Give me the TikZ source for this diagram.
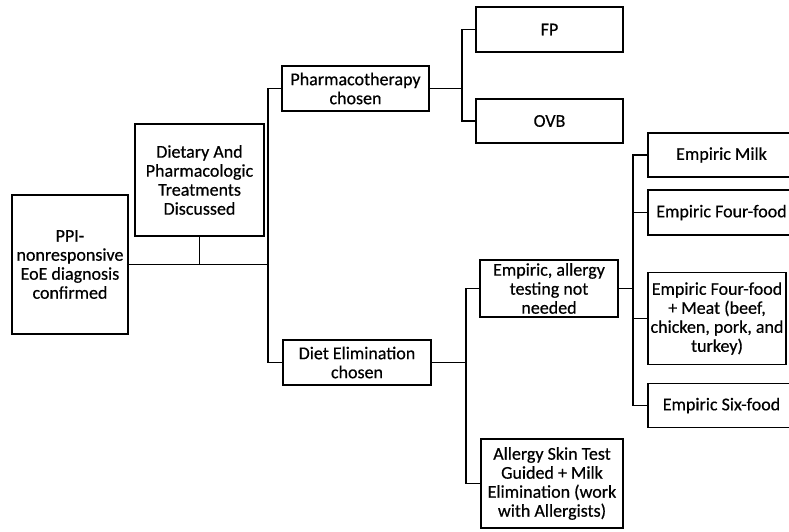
\documentclass[tikz,border=0pt]{standalone}
\usepackage{fontspec}
\setmainfont{Carlito}
\newfontfamily\boxfont{Carlito}[FakeBold=0.5]
\begin{document}
\begin{tikzpicture}[x=1pt,y=-1pt,
  box/.style={draw=black, line width=1.8pt, inner sep=0pt, align=center,
    font=\boxfont\fontsize{18}{19}\selectfont, text=black},
  conn/.style={draw=black, line width=1.8pt, line join=miter}]
\useasboundingbox (0,0) rectangle (789,531);
% boxes
\node[box, minimum width=116pt, minimum height=139pt] (ppi) at (70,264.5) {PPI-\\nonresponsive\\EoE diagnosis\\confirmed};
\node[box, minimum width=129pt, minimum height=112pt] (diet) at (199.5,180) {Dietary And\\Pharmacologic\\Treatments\\Discussed};
\node[box, minimum width=147pt, minimum height=45pt] (pharm) at (355.5,88.5) {Pharmacotherapy\\chosen};
\node[box, minimum width=147pt, minimum height=45pt] (fp) at (549.5,29.5) {FP};
\node[box, minimum width=147pt, minimum height=44pt] (ovb) at (549.5,121) {OVB};
\node[box, minimum width=148pt, minimum height=45pt] (de) at (357,362.5) {Diet Elimination\\chosen};
\node[box, minimum width=138pt, minimum height=57pt] (ea) at (549,288.5) {Empiric, allergy\\testing not\\needed};
\node[box, minimum width=142pt, minimum height=89pt] (as) at (552,483.5) {Allergy Skin Test\\Guided + Milk\\Elimination (work\\with Allergists)};
\node[box, minimum width=147pt, minimum height=44pt] (m1) at (721.5,155) {Empiric Milk};
\node[box, minimum width=147pt, minimum height=45pt] (m2) at (721.5,212.5) {Empiric Four-food};
\node[box, minimum width=138pt, minimum height=92pt] (m3) at (717,318.5) {Empiric Four-food\\+ Meat (beef,\\chicken, pork, and\\turkey)};
\node[box, minimum width=147pt, minimum height=44pt] (m4) at (721.5,405.5) {Empiric Six-food};
% junction coordinates
\coordinate (j1) at (268,264.5);
\coordinate (b2) at (462,88.5);
\coordinate (b3) at (466,362.5);
\coordinate (b4) at (633,288.5);
% connectors
\draw[conn] (ppi.east) -- (j1);
\draw[conn] (diet.south) -- (diet.south |- j1);
\draw[conn] (pharm.west) -| (j1) |- (de.west);
\draw[conn] (pharm.east) -- (b2);
\draw[conn] (fp.west) -| (b2) |- (ovb.west);
\draw[conn] (de.east) -- (b3);
\draw[conn] (ea.west) -| (b3) |- (as.west);
\draw[conn] (ea.east) -- (b4);
\draw[conn] (m1.west) -| (b4) |- (m4.west);
\draw[conn] (b4 |- m2.west) -- (m2.west);
\draw[conn] (b4 |- m3.west) -- (m3.west);
\end{tikzpicture}
\end{document}
